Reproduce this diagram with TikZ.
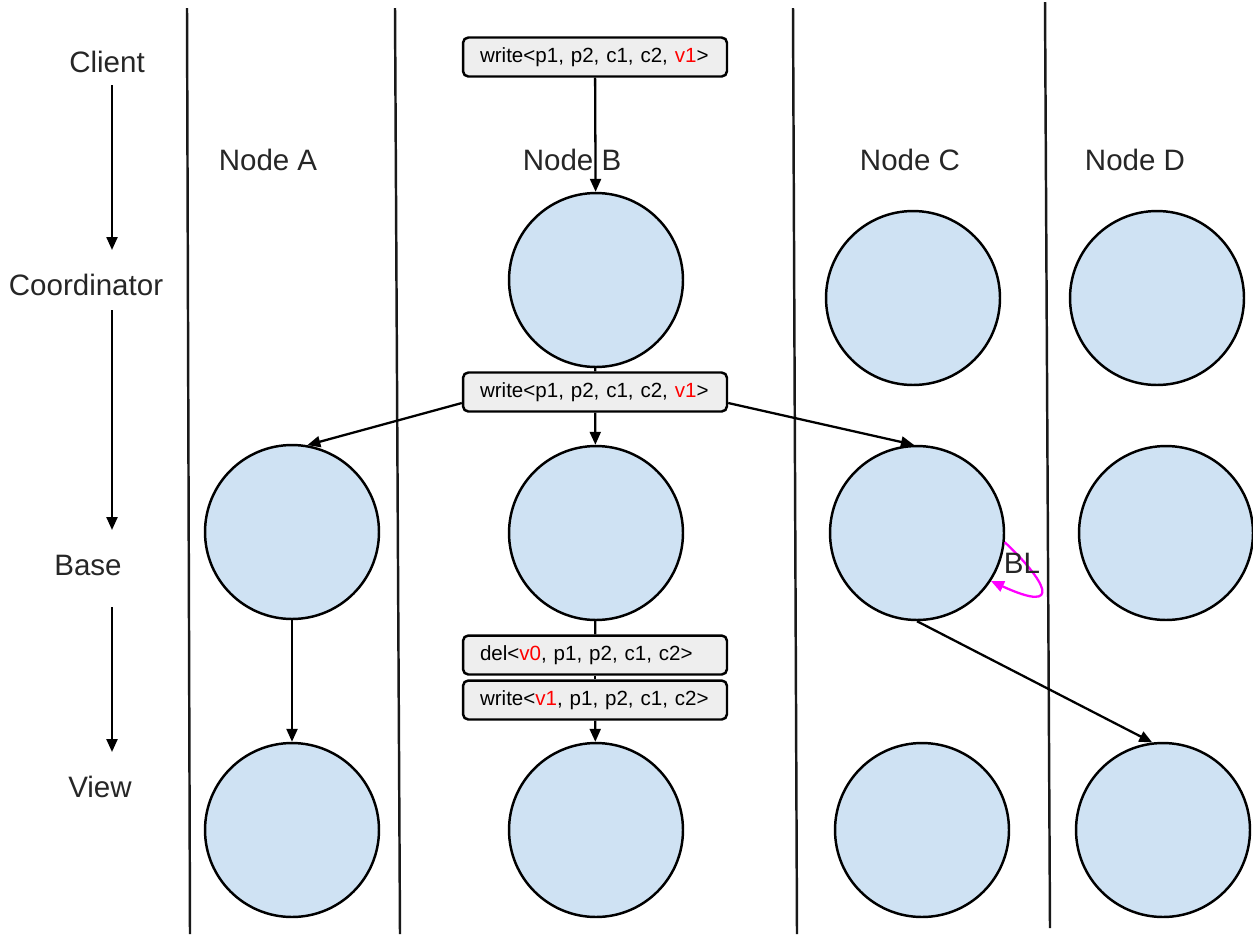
\documentclass[tikz,border=0pt]{standalone}
\usepackage{fontspec}
\setmainfont{Liberation Sans}
\usepackage{xcolor}
\usetikzlibrary{positioning,arrows.meta}
\definecolor{nodefill}{HTML}{CFE2F3}
\definecolor{msgfill}{HTML}{EEEEEE}
\definecolor{blpink}{HTML}{FF00FF}

\begin{document}
\begin{tikzpicture}[
  x=0.02cm, y=-0.02cm,
  lane/.style={line width=1.4pt, black!90},
  srv/.style={circle, draw, line width=1.4pt, fill=nodefill,
    minimum size=3.48cm, inner sep=0pt},
  msg/.style={draw, line width=1.4pt, rounded corners=3pt, fill=msgfill,
    minimum height=0.78cm, text width=4.6cm, inner xsep=0.34cm, inner ysep=0pt,
    align=left, font=\fontsize{11.7}{14}\selectfont},
  lbl/.style={font=\fontsize{16.8}{20}\selectfont, text=black!85},
  arr/.style={-{Triangle[length=2.6mm,width=2.2mm]}, line width=1.3pt},
  lnk/.style={line width=1.3pt},
  blarr/.style={-{Triangle[length=2.6mm,width=2.2mm]}, line width=1.3pt, blpink}
]
\useasboundingbox (0,0) rectangle (1253,934);

% lanes
\draw[lane] (187,8) -- (190,934);
\draw[lane] (395,8) -- (400,934);
\draw[lane] (793,8) -- (797,934);
\draw[lane] (1045,2) -- (1050,928);

% layers on the left
\node[lbl] (client) at (107,62) {Client};
\node[lbl] (coord) at (86,285) {Coordinator};
\node[lbl] (base) at (88,565) {Base};
\node[lbl] (view) at (100,787) {View};
\coordinate (l1s) at (112,85);
\coordinate (l1e) at (112,250);
\coordinate (l2s) at (112,310);
\coordinate (l2e) at (112,530);
\coordinate (l3s) at (112,607);
\coordinate (l3e) at (112,752);
\draw[arr] (l1s) -- (l1e);
\draw[arr] (l2s) -- (l2e);
\draw[arr] (l3s) -- (l3e);

% node titles
\node[lbl] (na) at (268,160) {Node A};
\node[lbl] (nb) at (572,160) {Node B};
\node[lbl] (nc) at (910,160) {Node C};
\node[lbl] (nd) at (1135,160) {Node D};

% replicas
\node[srv] (bcoord) at (596,280) {};
\node[srv] (ccoord) at (913,298) {};
\node[srv] (dcoord) at (1157,298) {};
\node[srv] (abase) at (292,532) {};
\node[srv] (bbase) at (596,533) {};
\node[srv] (cbase) at (917,533) {};
\node[srv] (dbase) at (1166,533) {};
\node[srv] (aview) at (292,830) {};
\node[srv] (bview) at (596,830) {};
\node[srv] (cview) at (922,830) {};
\node[srv] (dview) at (1163,830) {};

% messages
\node[msg] (w0) at (595,57) {write<p1, p2, c1, c2, \textcolor{red}{v1}>};
\node[msg] (w1) at (595,392) {write<p1, p2, c1, c2, \textcolor{red}{v1}>};
\node[msg] (del) at (595,655) {del<\textcolor{red}{v0}, p1, p2, c1, c2>};
\node[msg] (w2) at (595,700) {write<\textcolor{red}{v1}, p1, p2, c1, c2>};

\draw[arr] (w0) -- (bcoord);
\draw[lnk] (bcoord) -- (w1);
\draw[arr] ([yshift=-0.22cm]w1.west) -- (abase.80);
\draw[arr] (w1) -- (bbase);
\draw[arr] ([yshift=-0.22cm]w1.east) -- (cbase.92);
\draw[arr] (abase) -- (aview);
\draw[lnk] (bbase) -- (del);
\draw[lnk] (del) -- (w2);
\draw[arr] (w2) -- (bview);
\draw[arr] (cbase.south) -- (dview.97);

% BL
\draw[blarr] (cbase.-6) .. controls (1045,580) and (1065,615) .. (cbase.-33);
\node[lbl] (bl) at (1022,563) {BL};
\end{tikzpicture}
\end{document}
